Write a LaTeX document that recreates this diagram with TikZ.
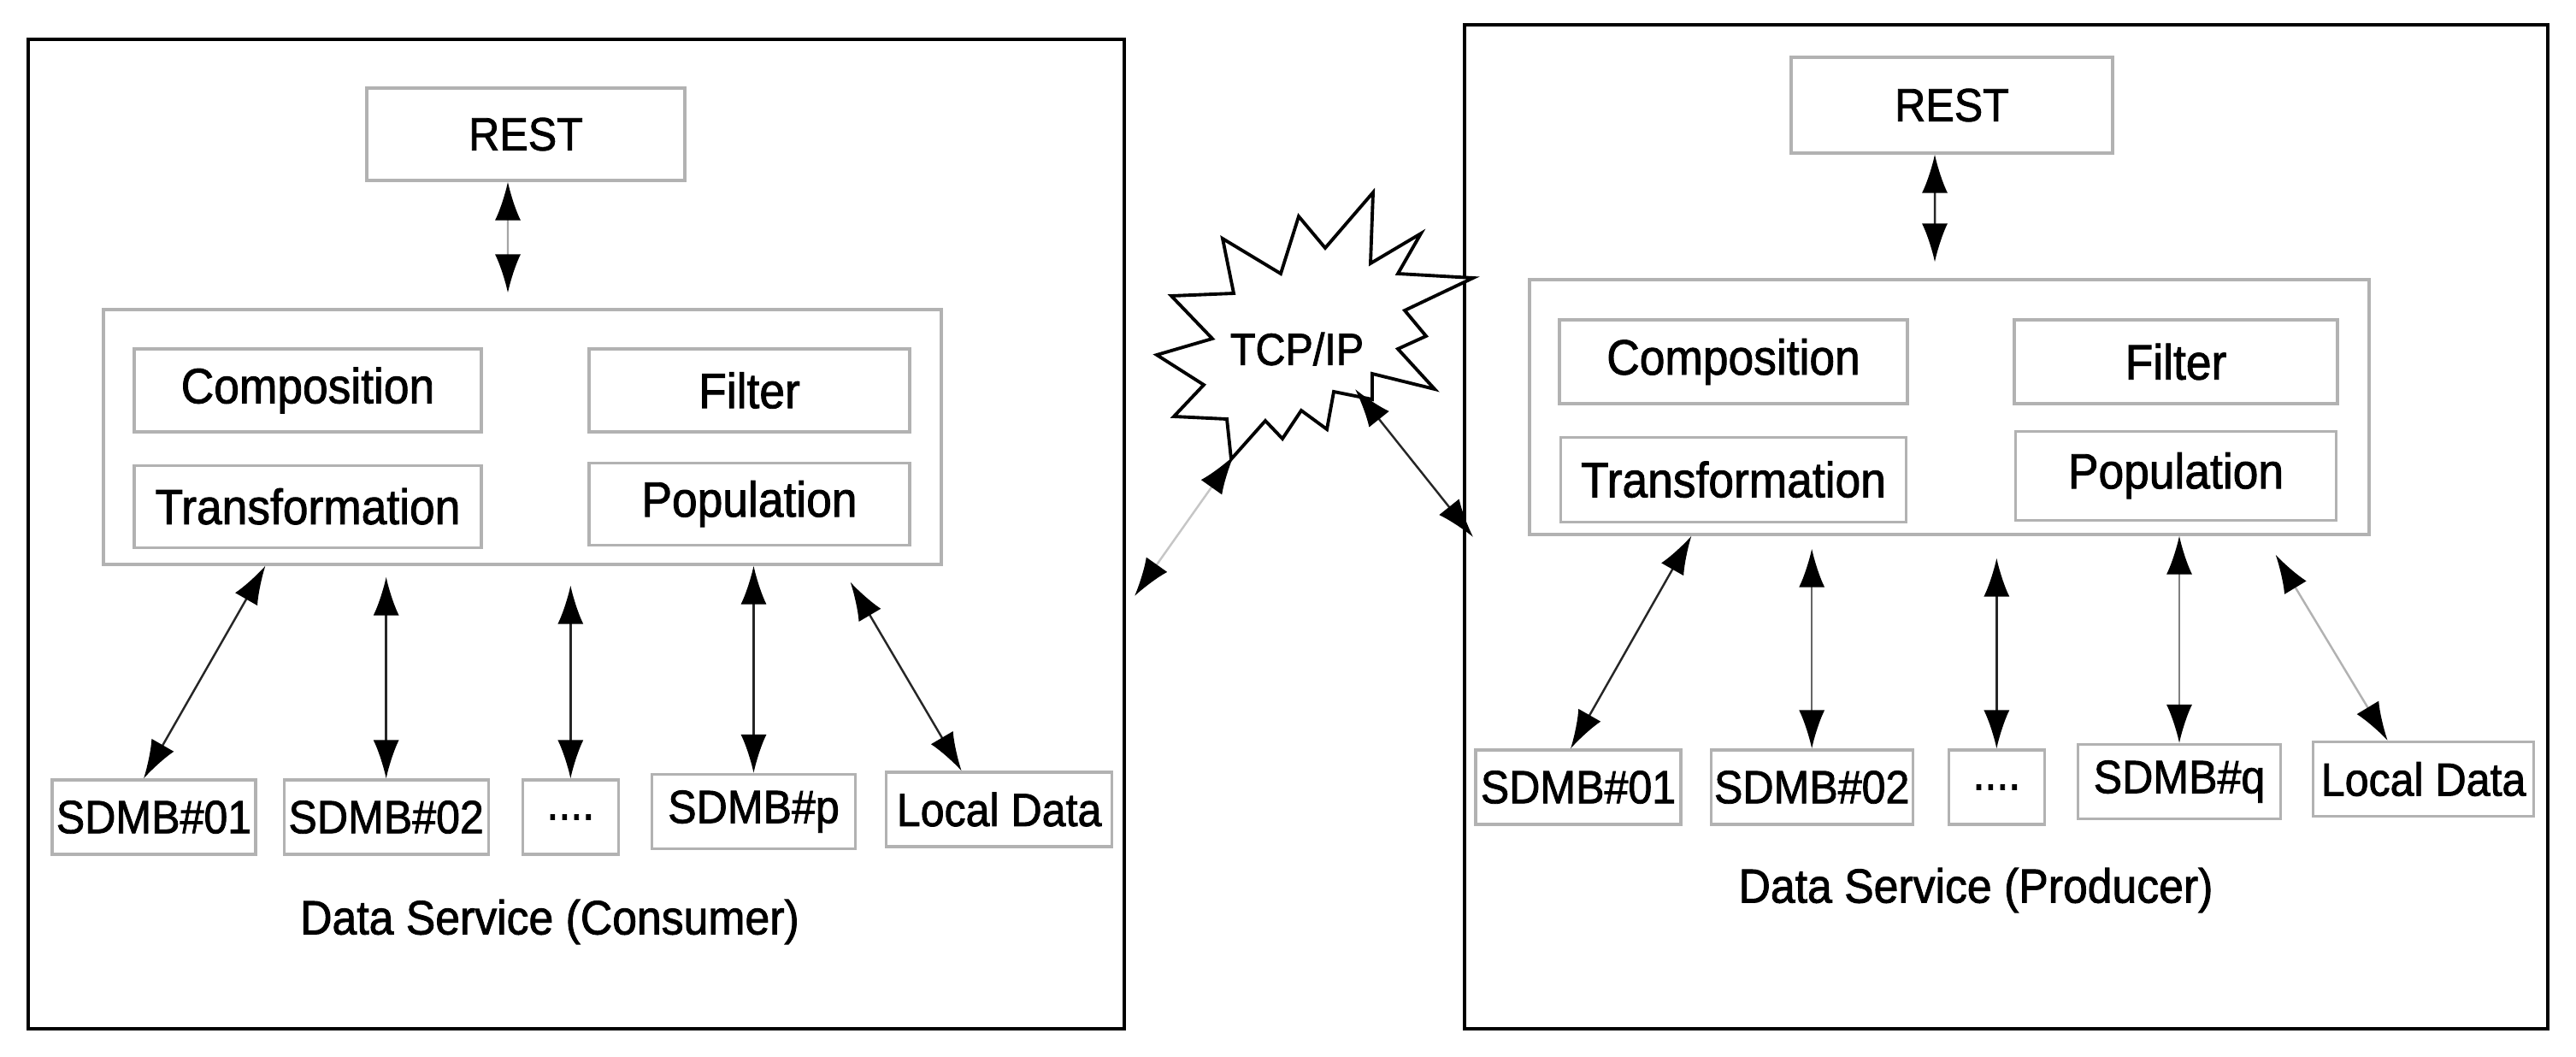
\documentclass[tikz,border=0pt]{standalone}
\usepackage{fontspec}
\setmainfont{Liberation Sans}[FakeStretch=0.92, FakeBold=1.5]
\usetikzlibrary{positioning, arrows.meta}
\tikzset{
	>={Latex[length=4.5mm, width=3mm, color=black]}, % long thin heads, always black
	node distance=3mm, % gap between the data boxes
	servicebox/.style={draw, line width=1.3pt}, % the two service frames
	module/.style={draw=gray!60, line width=0.9pt, inner sep=0pt, font=\fontsize{16.5}{19}\selectfont}, % boxes inside a frame
	store/.style={module, minimum height=0.87cm, font=\fontsize{15.5}{18}\selectfont}, % data sources at the bottom
	link/.style={<->, line width=0.7pt, black!85}, % two way connectors
	svcname/.style={font=\fontsize{16}{19}\selectfont}, % frame captions
}

\begin{document}
\begin{tikzpicture}[x=1cm, y=-1cm]
	\useasboundingbox (0,0) rectangle (30.13,12.35);

	% consumer side
	\node[servicebox, minimum width=12.82cm, minimum height=11.57cm] (consumer) at (6.74,6.245) {};
	\node[module, minimum width=3.72cm, minimum height=1.08cm, font=\fontsize{15.5}{18}\selectfont] (restC) at (6.15,1.57) {REST};
	\node[module, minimum width=9.80cm, minimum height=2.98cm] (coreC) at (6.11,5.11) {};
	\node[module, minimum width=4.06cm, minimum height=0.97cm] (compC) at (3.60,4.565) {Composition};
	\node[module, minimum width=3.75cm, minimum height=0.97cm] (filtC) at (8.765,4.565) {Filter};
	\node[module, minimum width=4.06cm, minimum height=0.96cm] (tranC) [below=3.6mm of compC] {Transformation};
	\node[module, minimum width=3.75cm, minimum height=0.96cm] (popuC) [below=3.3mm of filtC] {Population};
	\node[store, minimum width=2.38cm] (sdmb1C) at (1.80,9.555) {SDMB\#01};
	\node[store, minimum width=2.39cm] (sdmb2C) [right=3mm of sdmb1C] {SDMB\#02};
	\node[store, minimum width=1.12cm] (dotsC) [right=3.7mm of sdmb2C] {....};
	\node[store, minimum width=2.38cm] (sdmbpC) [right=3.6mm of dotsC, yshift=0.65mm] {SDMB\#p};
	\node[store, minimum width=2.64cm] (localC) [right=3.3mm of sdmbpC, yshift=0.25mm] {Local Data};
	\node[svcname] (nameC) at (6.43,10.78) {Data Service (Consumer)};

	% producer side
	\node[servicebox, minimum width=12.67cm, minimum height=11.74cm] (producer) at (23.465,6.16) {};
	\node[module, minimum width=3.76cm, minimum height=1.12cm, font=\fontsize{15.5}{18}\selectfont] (restP) at (22.83,1.23) {REST};
	\node[module, minimum width=9.82cm, minimum height=2.98cm] (coreP) at (22.80,4.76) {};
	\node[module, minimum width=4.07cm, minimum height=0.98cm] (compP) at (20.275,4.23) {Composition};
	\node[module, minimum width=3.78cm, minimum height=0.98cm] (filtP) at (25.45,4.23) {Filter};
	\node[module, minimum width=4.04cm, minimum height=0.99cm] (tranP) [below=3.6mm of compP] {Transformation};
	\node[module, minimum width=3.75cm, minimum height=1.04cm] (popuP) [below=2.9mm of filtP] {Population};
	\node[store, minimum width=2.40cm] (sdmb1P) at (18.46,9.205) {SDMB\#01};
	\node[store, minimum width=2.36cm] (sdmb2P) [right=3.2mm of sdmb1P] {SDMB\#02};
	\node[store, minimum width=1.12cm] (dotsP) [right=3.9mm of sdmb2P] {....};
	\node[store, minimum width=2.37cm] (sdmbqP) [right=3.6mm of dotsP, yshift=0.65mm] {SDMB\#q};
	\node[store, minimum width=2.58cm] (localP) [right=3.5mm of sdmbqP, yshift=0.3mm] {Local Data};
	\node[svcname] (nameP) at (23.11,10.41) {Data Service (Producer)};

	% network in between
	\draw[line width=1.1pt, fill=white] (16.06,2.25) -- (16.03,3.08) -- (16.62,2.73) -- (16.35,3.20) -- (17.23,3.25)
		-- (16.43,3.63) -- (16.68,3.93) -- (16.35,4.08) -- (16.78,4.55) -- (16.05,4.37) -- (16.05,4.67)
		-- (15.60,4.58) -- (15.52,5.02) -- (15.22,4.80) -- (15.00,5.13) -- (14.80,4.92) -- (14.40,5.37)
		-- (14.35,4.90) -- (13.73,4.87) -- (14.08,4.50) -- (13.53,4.15) -- (14.18,3.96) -- (13.70,3.46)
		-- (14.43,3.43) -- (14.30,2.79) -- (14.98,3.20) -- (15.19,2.53) -- (15.50,2.90) -- cycle;
	\node[font=\fontsize{15}{18}\selectfont] (tcp) at (15.17,4.08) {TCP/IP};
	\coordinate (tcpC) at (14.43,5.33);
	\coordinate (edgeC) at (13.27,6.97);
	\coordinate (tcpP) at (15.85,4.55);
	\coordinate (edgeP) at (17.23,6.28);

	\draw (tcpC) edge[link, gray!45] (edgeC)
		  (tcpP) edge[link] (edgeP)
		  ([xshift=-2.1mm]restC.south) edge[link, gray!70] ([xshift=-1.7mm, yshift=1.8mm]coreC.north)
		  ([xshift=1.91cm]coreC.south west) edge[link] ([xshift=-1.2mm]sdmb1C.north)
		  ([yshift=-1.3mm]sdmb2C.north |- coreC.south) edge[link] (sdmb2C.north)
		  ([yshift=-2.3mm]dotsC.north |- coreC.south) edge[link] (dotsC.north)
		  (sdmbpC.north |- coreC.south) edge[link] (sdmbpC.north)
		  ([xshift=-1.08cm, yshift=-1.9mm]coreC.south east) edge[link] ([xshift=-4.4mm]localC.north)
		  ([xshift=-2mm]restP.south) edge[link] ([xshift=-1.7mm, yshift=1.9mm]coreP.north)
		  ([xshift=1.91cm]coreP.south west) edge[link] ([xshift=-0.9mm]sdmb1P.north)
		  ([yshift=-1.5mm]sdmb2P.north |- coreP.south) edge[link, gray!80!black] (sdmb2P.north)
		  ([yshift=-2.6mm]dotsP.north |- coreP.south) edge[link] (dotsP.north)
		  (sdmbqP.north |- coreP.south) edge[link, gray] (sdmbqP.north)
		  ([xshift=-1.11cm, yshift=-2.2mm]coreP.south east) edge[link, gray!60] ([xshift=-4.2mm]localP.north);
\end{tikzpicture}
\end{document}
